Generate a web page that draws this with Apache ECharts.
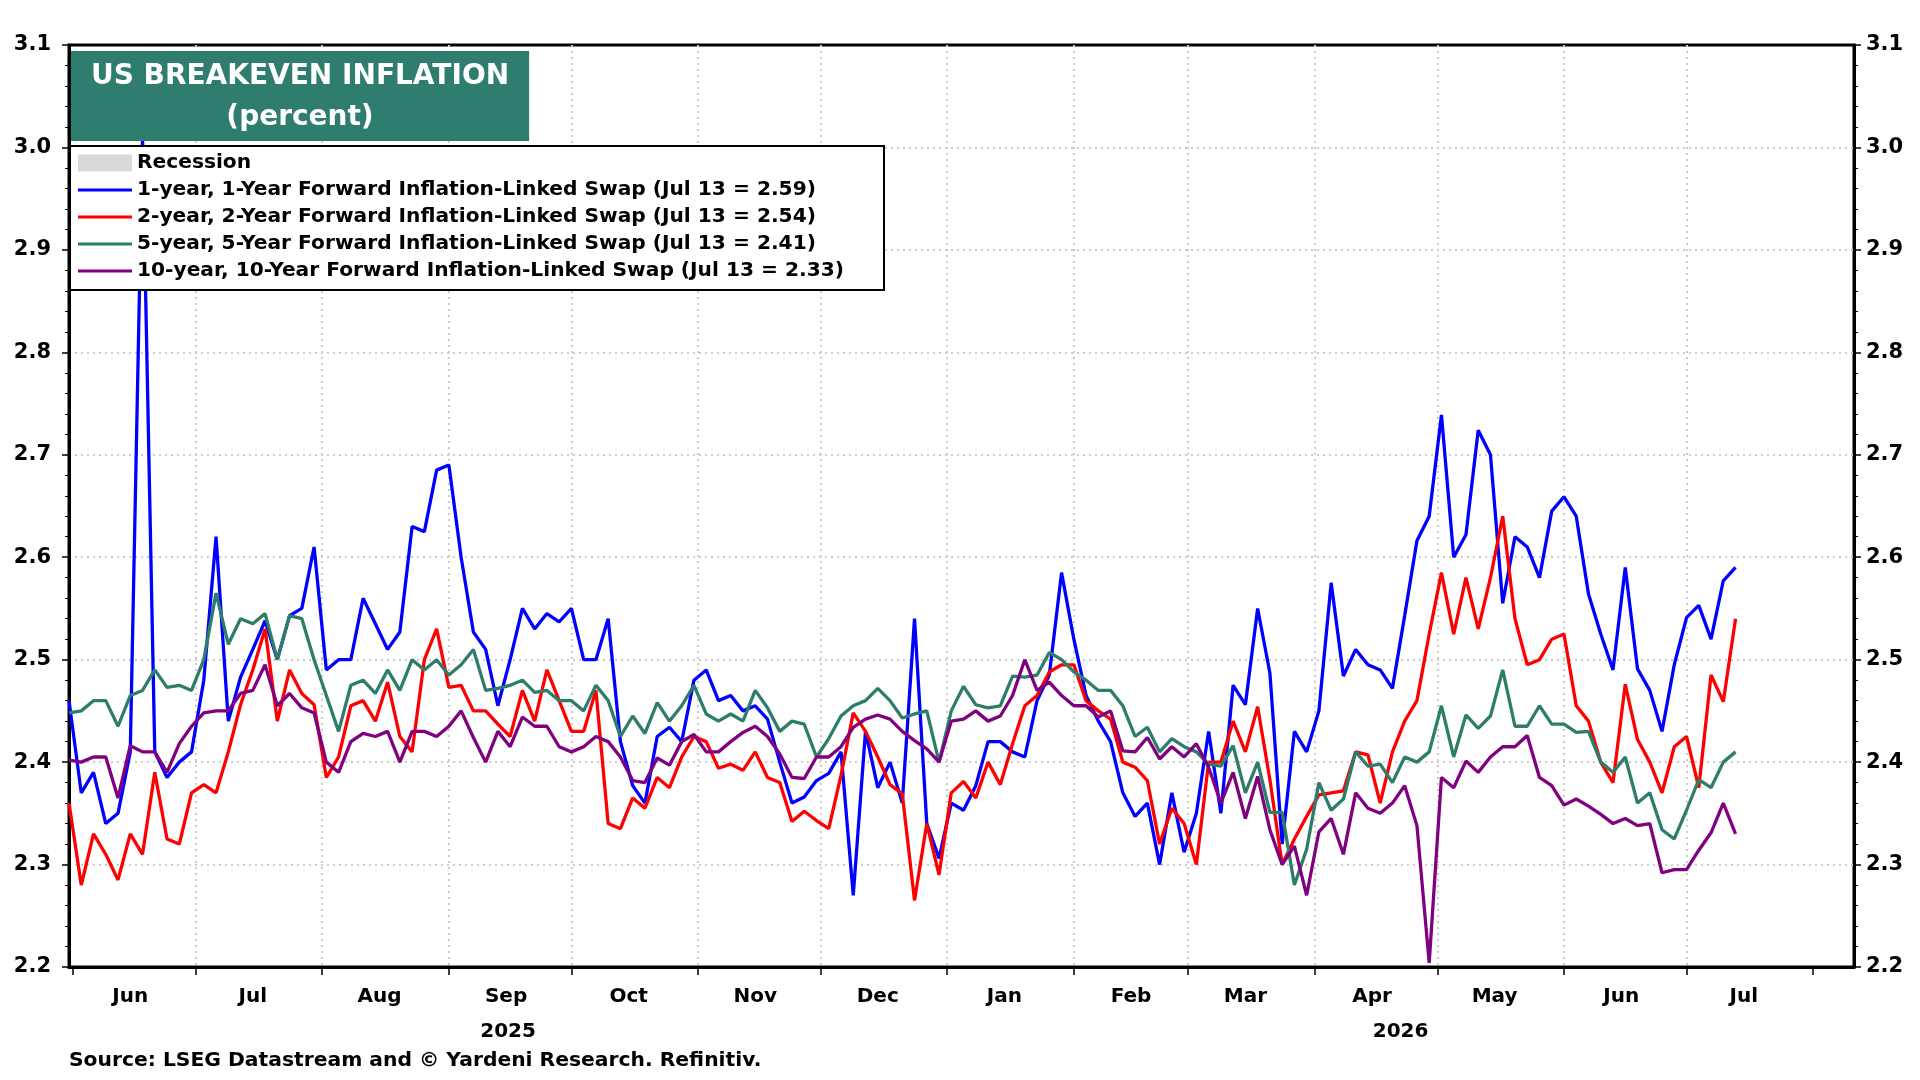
<!DOCTYPE html>
<html>
<head>
<meta charset="utf-8">
<title>US Breakeven Inflation</title>
<script src="https://cdn.jsdelivr.net/npm/echarts@6/dist/echarts.min.js"></script>
<style>
  html, body { margin: 0; padding: 0; background: #fff; }
  #main { width: 1920px; height: 1080px; }
</style>
</head>
<body>
<div id="main"></div>
<script>
var FONT = '"DejaVu Sans", Verdana, sans-serif';

// readings every 3rd calendar day, 31 May 2025 .. 13 Jul 2026
var stepDays = 3;
var monthNames = ['Jan', 'Feb', 'Mar', 'Apr', 'May', 'Jun', 'Jul', 'Aug', 'Sep', 'Oct', 'Nov', 'Dec'];

var oneYear = [
  2.46, 2.37, 2.39, 2.34, 2.35, 2.41, 3.01, 2.41, 2.385, 2.40,
  2.41, 2.48, 2.62, 2.44, 2.483, 2.51, 2.538, 2.50, 2.543, 2.55,
  2.61, 2.49, 2.50, 2.50, 2.56, 2.535, 2.51, 2.527, 2.63, 2.625,
  2.685, 2.69, 2.60, 2.527, 2.51, 2.455, 2.50, 2.55, 2.53, 2.545,
  2.537, 2.55, 2.50, 2.50, 2.54, 2.42, 2.377, 2.36, 2.425, 2.434,
  2.42, 2.48, 2.49, 2.46, 2.465, 2.45, 2.455, 2.442, 2.40, 2.36,
  2.366, 2.382, 2.389, 2.41, 2.27, 2.43, 2.375, 2.40, 2.36, 2.54,
  2.34, 2.306, 2.36, 2.353, 2.377, 2.42, 2.42, 2.41, 2.405, 2.46,
  2.485, 2.585, 2.52, 2.465, 2.44, 2.42, 2.37, 2.347, 2.36, 2.30,
  2.37, 2.312, 2.35, 2.43, 2.35, 2.475, 2.456, 2.55, 2.487, 2.32,
  2.43, 2.41, 2.45, 2.575, 2.484, 2.51, 2.495, 2.49, 2.472, 2.543,
  2.616, 2.64, 2.739, 2.60, 2.622, 2.724, 2.70, 2.555, 2.62, 2.61,
  2.58, 2.645, 2.659, 2.64, 2.564, 2.525, 2.49, 2.59, 2.491, 2.47,
  2.43, 2.495, 2.541, 2.553, 2.52, 2.577, 2.59
];

var twoYear = [
  2.36, 2.28, 2.33, 2.31, 2.285, 2.33, 2.31, 2.39, 2.325, 2.32,
  2.37, 2.378, 2.37, 2.41, 2.456, 2.49, 2.53, 2.44, 2.49, 2.467,
  2.456, 2.385, 2.405, 2.455, 2.46, 2.44, 2.478, 2.425, 2.41, 2.50,
  2.53, 2.473, 2.475, 2.45, 2.45, 2.437, 2.425, 2.47, 2.44, 2.49,
  2.46, 2.43, 2.43, 2.47, 2.34, 2.335, 2.365, 2.355, 2.385, 2.375,
  2.405, 2.425, 2.42, 2.394, 2.398, 2.392, 2.41, 2.385, 2.38, 2.342,
  2.352, 2.343, 2.335, 2.387, 2.448, 2.43, 2.405, 2.378, 2.369, 2.265,
  2.34, 2.29, 2.37, 2.381, 2.365, 2.40, 2.378, 2.418, 2.455, 2.465,
  2.488, 2.495, 2.495, 2.46, 2.45, 2.442, 2.40, 2.395, 2.382, 2.32,
  2.355, 2.34, 2.30, 2.40, 2.40, 2.44, 2.41, 2.454, 2.383, 2.30,
  2.325, 2.347, 2.368, 2.37, 2.372, 2.41, 2.407, 2.36, 2.41, 2.44,
  2.46, 2.525, 2.585, 2.525, 2.58, 2.53, 2.58, 2.64, 2.54, 2.495,
  2.50, 2.52, 2.525, 2.455, 2.44, 2.40, 2.38, 2.476, 2.422, 2.40,
  2.37, 2.415, 2.425, 2.375, 2.485, 2.459, 2.54
];

var fiveYear = [
  2.448, 2.45, 2.46, 2.46, 2.435, 2.465, 2.47, 2.49, 2.473, 2.475,
  2.47, 2.50, 2.565, 2.515, 2.54, 2.535, 2.545, 2.50, 2.543, 2.54,
  2.50, 2.465, 2.43, 2.475, 2.48, 2.467, 2.49, 2.47, 2.50, 2.49,
  2.50, 2.485, 2.495, 2.51, 2.47, 2.472, 2.475, 2.48, 2.468, 2.47,
  2.46, 2.46, 2.45, 2.475, 2.46, 2.425, 2.445, 2.428, 2.458, 2.44,
  2.455, 2.475, 2.447, 2.44, 2.447, 2.44, 2.47, 2.453, 2.43, 2.44,
  2.437, 2.405, 2.423, 2.445, 2.455, 2.46, 2.472, 2.46, 2.443, 2.447,
  2.45, 2.40, 2.45, 2.474, 2.456, 2.453, 2.455, 2.484, 2.483, 2.485,
  2.507, 2.50, 2.488, 2.48, 2.47, 2.47, 2.455, 2.425, 2.434, 2.41,
  2.423, 2.415, 2.41, 2.398, 2.396, 2.416, 2.37, 2.40, 2.351, 2.351,
  2.28, 2.315, 2.38, 2.353, 2.364, 2.41, 2.396, 2.398, 2.38, 2.405,
  2.40, 2.41, 2.455, 2.405, 2.446, 2.433, 2.445, 2.49, 2.435, 2.435,
  2.455, 2.437, 2.437, 2.429, 2.43, 2.40, 2.39, 2.405, 2.36, 2.37,
  2.334, 2.325, 2.353, 2.383, 2.375, 2.40, 2.41
];

var tenYear = [
  2.402, 2.40, 2.405, 2.405, 2.365, 2.416, 2.41, 2.41, 2.39, 2.418,
  2.435, 2.448, 2.45, 2.45, 2.467, 2.47, 2.495, 2.455, 2.467, 2.453,
  2.448, 2.40, 2.39, 2.42, 2.428, 2.425, 2.43, 2.40, 2.43, 2.43,
  2.425, 2.435, 2.45, 2.424, 2.40, 2.43, 2.415, 2.444, 2.435, 2.435,
  2.415, 2.41, 2.415, 2.425, 2.42, 2.405, 2.382, 2.38, 2.404, 2.397,
  2.42, 2.427, 2.41, 2.41, 2.42, 2.429, 2.435, 2.425, 2.408, 2.385,
  2.384, 2.405, 2.405, 2.415, 2.434, 2.442, 2.446, 2.442, 2.43, 2.421,
  2.413, 2.40, 2.44, 2.442, 2.45, 2.44, 2.445, 2.465, 2.50, 2.47,
  2.478, 2.465, 2.455, 2.455, 2.444, 2.45, 2.411, 2.41, 2.424, 2.403,
  2.415, 2.405, 2.418, 2.395, 2.36, 2.39, 2.345, 2.386, 2.334, 2.30,
  2.318, 2.27, 2.332, 2.345, 2.31, 2.37, 2.355, 2.35, 2.36, 2.377,
  2.338, 2.204, 2.385, 2.375, 2.401, 2.39, 2.405, 2.415, 2.415, 2.426,
  2.385, 2.377, 2.358, 2.364, 2.357, 2.349, 2.34, 2.345, 2.338, 2.34,
  2.292, 2.295, 2.295, 2.314, 2.331, 2.36, 2.33
];

var seriesNames = [
  '1-year, 1-Year Forward Inflation-Linked Swap',
  '2-year, 2-Year Forward Inflation-Linked Swap',
  '5-year, 5-Year Forward Inflation-Linked Swap',
  '10-year, 10-Year Forward Inflation-Linked Swap'
];
var seriesValues = [oneYear, twoYear, fiveYear, tenYear];
var seriesColors = ['#0000ff', '#ff0000', '#2e7d6b', '#800080'];

var dates = oneYear.map(function (v, i) {
  return new Date(2025, 4, 31 + i * stepDays).getTime();
});

var axisMin = new Date(2025, 4, 31).getTime();
var axisMax = new Date(2026, 7, 11).getTime();

// month boundaries for ticks/grid, mid-month for the names
var monthStarts = [];
var monthMids = [];
for (var m = 0; m <= 14; m++) {
  monthStarts.push(new Date(2025, 5 + m, 1).getTime());
  if (m < 14) monthMids.push(new Date(2025, 5 + m, 15).getTime());
}
var yearStart2026 = new Date(2026, 0, 1).getTime();
var yearMids = [(axisMin + yearStart2026) / 2, (yearStart2026 + axisMax) / 2];

var lastLabel = {};
seriesNames.forEach(function (name, idx) {
  var vals = seriesValues[idx];
  lastLabel[name] = ' (Jul 13 = ' + vals[vals.length - 1].toFixed(2) + ')';
});

var chart = echarts.init(document.getElementById('main'));

var gridLine = { show: true, showMinLine: false, showMaxLine: false,
  lineStyle: { color: '#cccccc', width: 2, type: [2, 4] } };

var labelStyle = { color: '#000', fontFamily: FONT, fontWeight: 'bold', fontSize: 20 };

var yAxisBase = {
  type: 'value',
  min: 2.2,
  max: 3.1,
  interval: 0.1,
  axisLine: { show: true, lineStyle: { color: '#000', width: 3 } },
  axisTick: { show: true, length: 7, lineStyle: { color: '#000', width: 1.5 } },
  minorTick: { show: true, splitNumber: 5, length: 4, lineStyle: { color: '#000', width: 1 } }
};

var series = seriesNames.map(function (name, idx) {
  return {
    name: name,
    type: 'line',
    symbol: 'none',
    color: seriesColors[idx],
    lineStyle: { width: 3.3, color: seriesColors[idx] },
    data: seriesValues[idx].map(function (v, i) { return [dates[i], v]; }),
    z: 3 + idx
  };
});
series.unshift({
  name: 'Recession',
  type: 'bar',
  data: [],
  itemStyle: { color: '#d9d9d9' }
});

var legendText = { color: '#000', fontFamily: FONT, fontWeight: 'bold', fontSize: 20.2, lineHeight: 22 };

chart.setOption({
  animation: false,
  backgroundColor: '#fff',
  title: {
    text: 'US BREAKEVEN INFLATION\n(percent)',
    left: 280,
    top: 51,
    textAlign: 'center',
    padding: [5, 20, 3, 20],
    backgroundColor: '#2f7d6f',
    z: 10,
    textStyle: {
      color: '#fff',
      fontFamily: FONT,
      fontWeight: 'bold',
      fontSize: 28,
      lineHeight: 41
    }
  },
  legend: [{
    left: 78,
    top: 152,
    orient: 'vertical',
    itemWidth: 54,
    itemHeight: 17,
    padding: 0,
    selectedMode: false,
    z: 11,
    icon: 'rect',
    textStyle: legendText,
    data: ['Recession']
  }, {
    left: 78,
    top: 179,
    orient: 'vertical',
    itemWidth: 54,
    itemHeight: 3,
    itemGap: 5,
    padding: 0,
    selectedMode: false,
    z: 11,
    icon: 'rect',
    textStyle: legendText,
    formatter: function (name) { return name + lastLabel[name]; },
    data: seriesNames
  }],
  grid: {
    left: 69,
    right: 66,
    top: 45,
    bottom: 113,
    show: true,
    borderColor: '#000',
    borderWidth: 3
  },
  xAxis: [{
    type: 'value',
    min: axisMin,
    max: axisMax,
    axisLine: { show: true, lineStyle: { color: '#000', width: 3 } },
    axisTick: { show: true, length: 8, customValues: monthStarts, lineStyle: { color: '#000', width: 1.5 } },
    splitLine: gridLine,
    axisLabel: Object.assign({}, labelStyle, {
      customValues: monthMids,
      margin: 20,
      hideOverlap: false,
      formatter: function (val) { return monthNames[new Date(val).getMonth()]; }
    })
  }, {
    type: 'value',
    min: axisMin,
    max: axisMax,
    position: 'bottom',
    offset: 35,
    axisLine: { show: false },
    axisTick: { show: false },
    splitLine: { show: false },
    axisLabel: Object.assign({}, labelStyle, {
      customValues: yearMids,
      margin: 20,
      formatter: function (val) { return String(new Date(val).getFullYear()); }
    })
  }],
  yAxis: [
    Object.assign({}, yAxisBase, {
      position: 'left',
      splitLine: gridLine,
      axisLabel: Object.assign({}, labelStyle, {
        fontSize: 21, margin: 18,
        formatter: function (v) { return v.toFixed(1); }
      })
    }),
    Object.assign({}, yAxisBase, {
      position: 'right',
      splitLine: { show: false },
      axisLabel: Object.assign({}, labelStyle, {
        fontSize: 21, margin: 12,
        formatter: function (v) { return v.toFixed(1); }
      })
    })
  ],
  graphic: [{
    type: 'rect',
    z: 10,
    shape: { x: 70, y: 146, width: 814, height: 144 },
    style: { fill: '#fff', stroke: '#000', lineWidth: 2 }
  }, {
    type: 'text',
    left: 69,
    top: 1051,
    z: 10,
    style: {
      text: 'Source: LSEG Datastream and \u00a9 Yardeni Research. Refinitiv.',
      fill: '#000',
      font: 'bold 20.3px ' + FONT
    }
  }],
  series: series
});
</script>
</body>
</html>
